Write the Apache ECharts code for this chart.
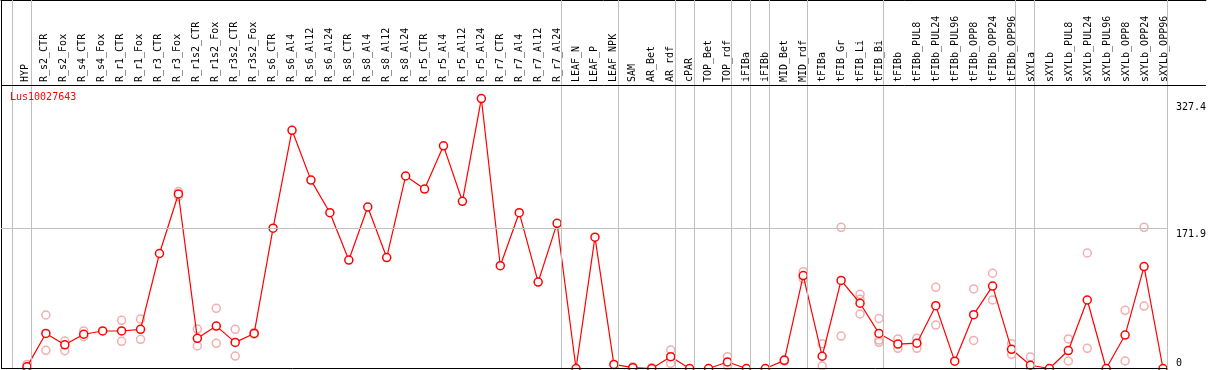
<!DOCTYPE html>
<html>
<head>
<meta charset="utf-8">
<script src="https://cdn.jsdelivr.net/npm/echarts@6/dist/echarts.min.js"></script>
<style>
html,body{margin:0;padding:0;background:#fff;}
#chart{width:1209px;height:370px;}
</style>
</head>
<body>
<div id="chart"></div>
<script>
const title = 'Lus10027643';
const categories = ['HYP','R_s2_CTR','R_s2_Fox','R_s4_CTR','R_s4_Fox','R_r1_CTR','R_r1_Fox','R_r3_CTR','R_r3_Fox','R_r1s2_CTR','R_r1s2_Fox','R_r3s2_CTR','R_r3s2_Fox','R_s6_CTR','R_s6_Al4','R_s6_Al12','R_s6_Al24','R_s8_CTR','R_s8_Al4','R_s8_Al12','R_s8_Al24','R_r5_CTR','R_r5_Al4','R_r5_Al12','R_r5_Al24','R_r7_CTR','R_r7_Al4','R_r7_Al12','R_r7_Al24','LEAF_N','LEAF_P','LEAF_NPK','SAM','AR_Bet','AR_rdf','cPAR','TOP_Bet','TOP_rdf','iFIBa','iFIBb','MID_Bet','MID_rdf','tFIBa','tFIB_Gr','tFIB_Li','tFIB_Bi','tFIBb','tFIBb_PUL8','tFIBb_PUL24','tFIBb_PUL96','tFIBb_OPP8','tFIBb_OPP24','tFIBb_OPP96','sXYLa','sXYLb','sXYLb_PUL8','sXYLb_PUL24','sXYLb_PUL96','sXYLb_OPP8','sXYLb_OPP24','sXYLb_OPP96'];
const means = [2,43,29,42,46,46,48,141,214,37,52,32,43,172,292,231,191,133,198,136,236,220,273,205,331,126,191,106,178,0,161,5,1,0,14.5,0,0,8,0,0,10,114,15,108,80,43,30,31,77,9,66,101,23.5,4,0,22,84,0,41,125,0];
const rep1 = [5,65.6,33.7,46,null,59.1,60.7,null,217,48.4,73.8,48,44,null,null,null,null,null,null,null,null,null,null,null,null,null,null,null,null,null,null,null,2,1,22.7,null,null,14.5,null,null,11,118.7,30.4,173.1,91,61.3,36.2,37,99.5,null,97.5,116.8,30.4,14.1,null,36.2,141.6,null,71.3,173.1,null];
const rep2 = [0,22.3,21.9,39,null,33.3,35.8,null,211,27.6,30.9,15.3,42,null,null,null,null,null,null,null,null,null,null,null,null,null,null,null,null,null,null,null,null,null,6.3,null,null,3.5,null,null,9,110,3.1,39.8,66.8,34.9,24.7,24.7,53.3,null,34.4,84,17.4,0,null,9.2,24.7,null,9.2,76.6,null];
const rep3 = [null,null,null,null,null,null,null,null,null,null,null,null,null,null,null,null,null,null,null,null,null,null,null,null,null,null,null,null,null,null,null,null,null,null,null,null,null,null,null,null,null,null,null,null,84.8,32.1,null,null,null,null,null,null,null,null,null,null,null,null,null,null,null];
const yTickLabels = [0, 171.9, 327.4];
const groupEnds = [-1, 0, 28, 31, 34, 35, 37, 38, 39, 41, 45, 52, 53, 60];

const FONT = 'DejaVu Sans Mono';
const XMIN = -1.3697, XMAX = 62.266, YMAX = 451.8, HEADER = 347.6;
const RIGHT_END = 60.22;

const lineData = means.map((v, i) => [i, v]);
const repData = [];
[rep1, rep2, rep3].forEach(arr => arr.forEach((v, i) => { if (v !== null) repData.push([i, v]); }));

const markData = groupEnds.map(k => ({ xAxis: k + 0.22, lineStyle: { color: '#c0c0c0', width: 1, type: 'solid' } }));
markData.push([{ coord: [XMIN, yTickLabels[1]], lineStyle: { color: '#c0c0c0', width: 1, type: 'solid' } }, { coord: [RIGHT_END, yTickLabels[1]] }]);
markData.push({ yAxis: HEADER, lineStyle: { color: '#000', width: 1, type: 'solid' } });
markData.push([{ coord: [XMIN, 0], lineStyle: { color: '#000', width: 1, type: 'solid' } }, { coord: [RIGHT_END, 0] }]);

const chart = echarts.init(document.getElementById('chart'), null, { renderer: 'canvas' });
chart.setOption({
  animation: false,
  backgroundColor: '#fff',
  title: { text: title, left: 5, top: 87, textStyle: { color: '#ff0000', fontSize: 10, fontWeight: 'normal', fontFamily: FONT } },
  grid: [
    { left: 1, right: 0, top: 0, height: 368.5, show: false },
    { left: 16, top: 84, width: 1157.8, height: 1, show: false }
  ],
  xAxis: [
    { type: 'value', gridIndex: 0, min: XMIN, max: XMAX, position: 'top',
      axisLine: { show: true, onZero: false, lineStyle: { color: '#000', width: 1 } },
      axisTick: { show: false }, axisLabel: { show: false }, splitLine: { show: false } },
    { type: 'category', gridIndex: 1, data: categories, position: 'top',
      axisLine: { show: false }, axisTick: { show: false }, splitLine: { show: false },
      axisLabel: { rotate: 90, interval: 0, margin: 2, fontSize: 10, fontFamily: FONT, color: '#000' } }
  ],
  yAxis: [
    { type: 'value', gridIndex: 0, min: 0, max: YMAX, position: 'right',
      axisLine: { show: false }, axisTick: { show: false }, splitLine: { show: false },
      axisLabel: { customValues: yTickLabels, inside: true, align: 'left', margin: 30,
        verticalAlign: 'top', verticalAlignMinLabel: 'bottom', padding: [1, 0, 0, 0],
        fontSize: 10, fontFamily: FONT, color: '#000', formatter: v => String(v) } },
    { type: 'value', gridIndex: 0, min: 0, max: YMAX, position: 'left',
      axisLine: { show: true, onZero: false, lineStyle: { color: '#000', width: 1 } },
      axisTick: { show: false }, axisLabel: { show: false }, splitLine: { show: false } },
    { type: 'value', gridIndex: 1, show: false }
  ],
  series: [
    { type: 'scatter', xAxisIndex: 0, yAxisIndex: 0, z: 1, data: repData,
      symbol: 'circle', symbolSize: 8, silent: true,
      itemStyle: { color: 'rgba(255,255,255,0)', borderColor: '#ef9a9a', borderWidth: 1.5 },
      markLine: { silent: true, symbol: 'none', label: { show: false }, animation: false, data: markData } },
    { type: 'line', xAxisIndex: 0, yAxisIndex: 0, z: 3, data: lineData,
      symbol: 'circle', symbolSize: 8, showAllSymbol: true, clip: false,
      lineStyle: { color: '#ff0000', width: 1.2 },
      itemStyle: { color: '#ffffff', borderColor: '#ff0000', borderWidth: 1.5 } }
  ]
});
</script>
</body>
</html>
